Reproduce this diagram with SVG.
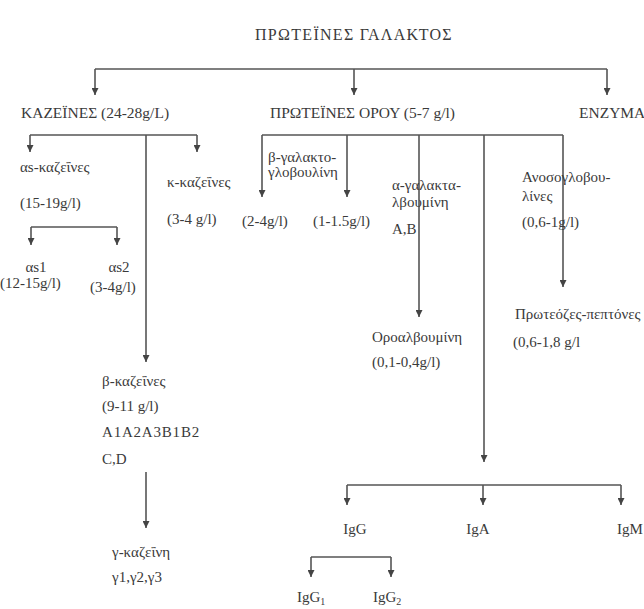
<svg xmlns="http://www.w3.org/2000/svg" width="644" height="609" viewBox="0 0 644 609">
<style>
text{font-family:"Liberation Serif","DejaVu Serif",serif;fill:#3a3a3a;font-size:15px}
.h{font-size:15.5px}
.t{font-size:16px;letter-spacing:1.3px}
.c{text-anchor:middle}
.ln{stroke:#555;stroke-width:1.6;fill:none}
.ar{stroke:#555;stroke-width:1.6;fill:none;marker-end:url(#ah)}
</style>
<defs>
<marker id="ah" markerUnits="userSpaceOnUse" markerWidth="7" markerHeight="7" viewBox="0 0 7 7" refX="7" refY="3.5" orient="auto">
<path d="M0,0 L7,3.5 L0,7 Z" fill="#444"/>
</marker>
</defs>
<rect width="644" height="609" fill="#fff"/>
<g id="connectors">
<path class="ln" d="M95,69 H607"/>
<path class="ar" d="M95,69 V95"/>
<path class="ar" d="M354,69 V95"/>
<path class="ar" d="M607,69 V95"/>
<path class="ln" d="M30,135 H197"/>
<path class="ar" d="M30,135 V152"/>
<path class="ar" d="M197,135 V152"/>
<path class="ar" d="M146,135 V362"/>
<path class="ar" d="M146,472 V528"/>
<path class="ln" d="M31,227 H117"/>
<path class="ar" d="M31,227 V245"/>
<path class="ar" d="M117,227 V245"/>
<path class="ln" d="M262,135 H563"/>
<path class="ar" d="M262,135 V197"/>
<path class="ar" d="M347,135 V197"/>
<path class="ar" d="M419,135 V317"/>
<path class="ar" d="M484,135 V462"/>
<path class="ar" d="M563,135 V287"/>
<path class="ln" d="M347,485 H621"/>
<path class="ar" d="M347,485 V505"/>
<path class="ar" d="M483,485 V505"/>
<path class="ar" d="M621,485 V505"/>
<path class="ln" d="M311,557 H391"/>
<path class="ar" d="M311,557 V577"/>
<path class="ar" d="M391,557 V577"/>
</g>
<g id="n-title"><text class="t" x="255" y="40">ΠΡΩΤΕΪΝΕΣ ΓΑΛΑΚΤΟΣ</text></g>
<g id="n-kazeines"><text class="h" x="21" y="118">ΚΑΖΕΪΝΕΣ (24-28g/L)</text></g>
<g id="n-orou"><text class="h" x="270" y="118">ΠΡΩΤΕΪΝΕΣ ΟΡΟΥ (5-7 g/l)</text></g>
<g id="n-enzyma"><text class="h" x="579" y="118">ΕΝΖΥΜΑ</text></g>
<g id="n-as"><text x="20" y="172">αs-καζεΐνες</text><text x="20" y="208">(15-19g/l)</text></g>
<g id="n-as1"><text class="c" x="36" y="272">αs1</text><text x="0" y="288">(12-15g/l)</text></g>
<g id="n-as2"><text class="c" x="119" y="272">αs2</text><text x="90" y="292">(3-4g/l)</text></g>
<g id="n-k"><text x="167" y="187">κ-καζεΐνες</text><text x="167" y="224">(3-4 g/l)</text></g>
<g id="n-blg"><text x="268" y="162">β-γαλακτο-</text><text x="268" y="177">γλοβουλίνη</text></g>
<g id="n-blg1"><text x="242" y="226">(2-4g/l)</text></g>
<g id="n-blg2"><text x="313" y="226">(1-1.5g/l)</text></g>
<g id="n-ala"><text x="392" y="190">α-γαλακτα-</text><text x="392" y="207">λβουμίνη</text><text x="392" y="234">A,B</text></g>
<g id="n-ig"><text x="522" y="182">Ανοσογλοβου-</text><text x="522" y="201">λίνες</text><text x="522" y="227">(0,6-1g/l)</text></g>
<g id="n-pp"><text x="515" y="319">Πρωτεόζες-πεπτόνες</text><text x="513" y="347">(0,6-1,8 g/l</text></g>
<g id="n-sa"><text x="372" y="342">Οροαλβουμίνη</text><text x="372" y="367">(0,1-0,4g/l)</text></g>
<g id="n-b"><text x="102" y="386">β-καζεΐνες</text><text x="102" y="411">(9-11 g/l)</text><text x="102" y="437" letter-spacing="0.8">A1A2A3B1B2</text><text x="102" y="464">C,D</text></g>
<g id="n-g"><text x="112" y="557">γ-καζεΐνη</text><text x="112" y="582">γ1,γ2,γ3</text></g>
<g id="n-igg"><text class="c" x="355" y="534">IgG</text></g>
<g id="n-iga"><text class="c" x="478" y="534">IgA</text></g>
<g id="n-igm"><text x="617" y="534">IgM</text></g>
<g id="n-igg1"><text x="297" y="602">IgG<tspan font-size="10" dy="3">1</tspan></text></g>
<g id="n-igg2"><text x="373" y="602">IgG<tspan font-size="10" dy="3">2</tspan></text></g>
</svg>
